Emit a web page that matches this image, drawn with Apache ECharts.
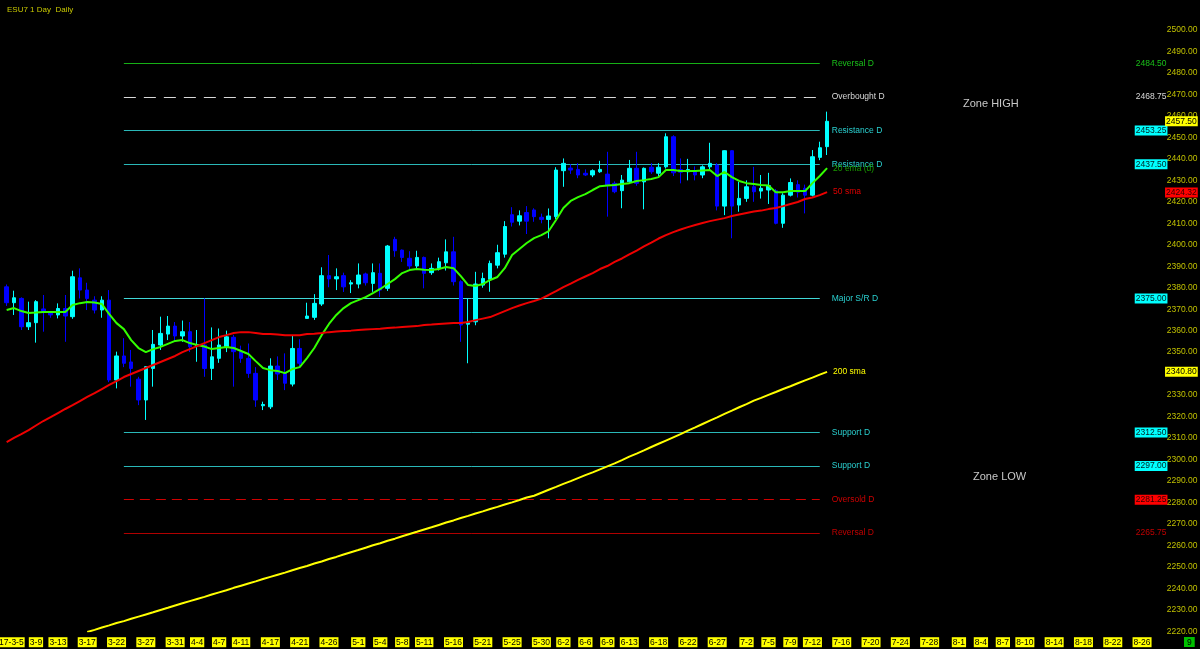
<!DOCTYPE html>
<html><head><meta charset="utf-8">
<script src="https://cdn.jsdelivr.net/npm/echarts@6/dist/echarts.min.js"></script>
<style>html,body{margin:0;padding:0;background:#000;}#c{width:1200px;height:649px;}</style>
</head><body><div id="c"></div>
<script>
const categories = ['2017-3-5','3-6','3-7','3-8','3-9','3-10','3-12','3-13','3-14','3-15','3-16','3-17','3-19','3-20','3-21','3-22','3-23','3-24','3-26','3-27','3-28','3-29','3-30','3-31',
'4-2','4-3','4-4','4-5','4-6','4-7','4-9','4-10','4-11','4-12','4-13','4-16','4-17','4-18','4-19','4-20','4-21','4-23','4-24','4-25','4-26','4-27','4-28','4-30',
'5-1','5-2','5-3','5-4','5-5','5-7','5-8','5-9','5-10','5-11','5-12','5-14','5-15','5-16','5-17','5-18','5-19','5-21','5-22','5-23','5-24','5-25','5-26','5-28','5-29','5-30','5-31',
'6-1','6-2','6-4','6-5','6-6','6-7','6-8','6-9','6-11','6-12','6-13','6-14','6-15','6-16','6-18','6-19','6-20','6-21','6-22','6-23','6-25','6-26','6-27','6-28','6-29','6-30',
'7-2','7-3','7-4','7-5','7-6','7-7','7-9','7-10','7-11','7-12','7-13','7-14',
'7-15','7-16','7-17','7-18','7-19','7-20','7-21','7-22','7-23','7-24','7-25','7-26','7-27','7-28','7-29','7-30','7-31',
'8-1','8-2','8-3','8-4','8-5','8-6','8-7','8-8','8-9','8-10','8-11','8-12','8-13','8-14','8-15','8-16','8-17','8-18','8-19','8-20','8-21','8-22','8-23','8-24','8-25','8-26','8-27','8-28','8-29'];

const tickLabels = ['2017-3-5','3-9','3-13','3-17','3-22','3-27','3-31','4-4','4-7','4-11','4-17','4-21','4-26','5-1','5-4','5-8','5-11','5-16','5-21','5-25','5-30','6-2','6-6','6-9','6-13','6-18','6-22','6-27','7-2','7-5','7-9','7-12','7-16','7-20','7-24','7-28','8-1','8-4','8-7','8-10','8-14','8-18','8-22','8-26'];

// [open, close, low, high]
const candles = [
[2380.4,2373.0,2371.5,2381.5],[2373.0,2375.3,2367.3,2378.6],[2375.0,2361.8,2360.3,2375.5],[2361.8,2363.7,2360.3,2373.5],
[2363.7,2373.5,2354.4,2374.2],[2370.1,2368.8,2359.5,2376.6],[2368.3,2367.3,2366.0,2369.0],[2367.3,2370.3,2365.7,2372.7],
[2370.3,2366.8,2354.8,2376.6],[2366.5,2385.1,2365.5,2387.9],[2384.6,2378.9,2375.0,2389.0],[2378.9,2375.0,2369.6,2382.3],
[2374.2,2369.6,2368.0,2376.0],[2369.6,2374.2,2366.0,2376.0],[2374.2,2337.0,2336.0,2378.9],[2337.0,2348.2,2333.1,2350.2],
[2348.2,2344.8,2343.0,2356.5],[2345.4,2342.4,2333.9,2351.0],[2337.4,2327.7,2325.3,2338.5],[2327.7,2343.2,2318.4,2343.5],
[2342.4,2353.6,2333.9,2360.3],[2353.3,2358.7,2351.0,2366.5],[2358.4,2362.1,2355.6,2366.8],[2362.1,2357.5,2355.0,2364.0],
[2357.5,2359.5,2354.8,2364.7],[2359.5,2352.5,2350.0,2364.0],[2353.0,2353.5,2345.5,2360.3],[2353.3,2342.4,2338.5,2375.0],
[2342.4,2347.8,2337.0,2361.5],[2347.1,2353.3,2345.0,2361.0],[2352.5,2357.1,2350.0,2360.0],[2356.9,2350.2,2333.9,2358.0],
[2350.2,2347.1,2345.0,2353.0],[2347.1,2340.1,2338.0,2354.0],[2340.1,2327.7,2324.5,2343.0],[2325.0,2325.6,2323.0,2326.9],
[2324.5,2343.5,2323.5,2347.1],[2343.5,2339.8,2337.0,2348.0],[2340.1,2335.5,2332.3,2349.4],[2335.1,2351.7,2334.0,2357.9],
[2351.7,2344.8,2343.0,2356.0],[2365.7,2366.8,2365.5,2373.0],[2366.2,2372.7,2365.0,2377.0],[2372.4,2385.6,2371.5,2389.5],
[2385.6,2384.1,2380.2,2395.2],[2384.1,2385.1,2378.9,2389.0],[2385.6,2380.4,2378.0,2387.0],[2381.7,2382.3,2377.5,2383.5],
[2381.7,2385.9,2379.7,2391.3],[2386.4,2382.3,2381.0,2387.0],[2382.0,2387.0,2378.1,2391.3],[2386.7,2378.9,2375.7,2391.3],
[2379.7,2399.4,2378.5,2399.9],[2402.5,2397.2,2394.4,2403.7],[2397.5,2394.1,2392.0,2397.8],[2393.7,2390.1,2388.5,2397.0],
[2390.1,2394.1,2389.0,2397.2],[2394.1,2386.7,2379.7,2394.5],[2387.0,2389.0,2386.0,2391.3],[2389.0,2392.1,2388.0,2394.0],
[2391.6,2396.7,2388.0,2402.5],[2396.7,2382.8,2381.0,2403.7],[2382.8,2362.6,2354.8,2383.5],[2363.0,2363.6,2344.8,2375.0],
[2364.1,2381.7,2362.5,2387.4],[2381.2,2384.3,2380.0,2387.0],[2383.9,2391.3,2378.1,2392.6],[2390.5,2396.3,2389.0,2400.0],
[2395.6,2408.5,2394.0,2411.0],[2414.0,2410.5,2408.5,2417.5],[2411.0,2413.5,2409.0,2416.0],[2415.0,2411.0,2405.0,2418.0],
[2416.2,2413.1,2410.7,2417.0],[2412.8,2411.8,2410.0,2414.5],[2411.8,2413.4,2403.0,2416.9],[2413.1,2434.8,2412.0,2436.1],
[2434.5,2437.9,2427.0,2440.2],[2435.7,2434.8,2433.0,2437.5],[2435.1,2432.5,2431.0,2438.0],[2433.3,2432.5,2432.0,2435.1],
[2432.5,2434.5,2431.5,2435.1],[2434.0,2435.1,2433.5,2439.1],[2432.9,2427.8,2413.1,2443.3],[2428.6,2424.7,2424.0,2429.5],
[2425.2,2430.1,2417.0,2432.5],[2429.3,2435.6,2428.5,2439.5],[2435.6,2428.6,2427.5,2443.3],[2429.3,2435.6,2416.5,2436.0],
[2436.1,2434.0,2433.0,2438.0],[2433.3,2436.1,2432.0,2438.0],[2436.3,2450.3,2435.5,2451.9],[2450.3,2433.5,2432.0,2451.0],
[2435.0,2433.8,2428.6,2440.2],[2434.0,2435.0,2430.0,2440.0],[2434.0,2432.5,2430.0,2436.5],[2432.5,2436.3,2431.0,2437.0],
[2436.3,2437.9,2435.0,2447.5],[2437.1,2418.0,2416.0,2438.0],[2418.0,2443.8,2413.8,2444.0],[2443.8,2418.0,2403.0,2444.0],
[2418.5,2421.6,2415.4,2429.3],[2421.6,2427.0,2420.0,2430.0],[2427.0,2424.7,2420.0,2436.3],[2425.0,2426.3,2421.5,2432.5],
[2425.5,2427.5,2419.0,2433.5],[2425.2,2410.0,2409.5,2426.0],[2410.0,2423.1,2407.9,2424.0],[2423.1,2429.0,2422.5,2430.9],
[2428.0,2424.5,2422.0,2430.0],[2426.3,2423.1,2414.6,2428.0],[2423.1,2441.0,2422.5,2444.1],[2440.7,2445.2,2439.4,2448.0],
[2445.7,2457.5,2441.8,2462.0]];

const emaLine = [2369.6,2370.5,2369.1,2368.2,2368.4,2368.7,2368.7,2368.7,2368.7,2371.9,2372.8,2373.3,2373.1,2372.4,2367.7,2363.5,
2360.7,2355.6,2351.9,2350.0,2351.4,2352.4,2353.8,2355.2,2355.6,2354.2,2353.3,2352.6,2351.4,2351.9,2352.4,2351.9,
2350.5,2349.1,2345.8,2342.6,2341.6,2341.2,2340.2,2342.1,2343.0,2347.2,2351.9,2357.9,2363.1,2367.3,2370.5,2372.8,
2374.2,2375.6,2377.5,2379.4,2381.7,2384.0,2386.8,2388.2,2388.7,2388.4,2388.2,2388.7,2389.6,2389.1,2385.4,2381.2,
2380.8,2381.7,2383.6,2385.0,2389.1,2395.2,2398.0,2400.8,2403.1,2404.5,2406.4,2411.5,2417.1,2420.4,2422.2,2423.6,
2425.5,2427.3,2427.6,2427.8,2428.3,2428.7,2429.7,2430.1,2430.6,2431.5,2434.8,2434.8,2434.3,2434.3,2434.3,2434.6,
2434.8,2432.0,2433.9,2431.5,2429.7,2428.7,2428.3,2427.8,2427.6,2424.5,2424.5,2425.0,2425.0,2425.0,2428.7,2432.0,2435.7];

const sma50 = [2308.1,2310.0,2311.8,2313.7,2315.8,2317.9,2319.7,2321.6,2323.5,2325.3,2327.2,2329.1,2330.9,2332.8,2334.7,2336.5,
2338.4,2339.8,2341.2,2342.6,2344.0,2345.4,2346.8,2348.2,2350.0,2351.4,2352.8,2354.2,2355.6,2357.0,2357.9,2358.9,
2359.3,2359.3,2358.9,2358.4,2358.4,2358.2,2357.9,2357.9,2357.9,2358.4,2358.6,2358.9,2359.3,2359.6,2359.8,2360.0,
2360.3,2360.5,2360.7,2360.9,2361.2,2361.4,2361.7,2361.9,2362.1,2362.6,2362.8,2363.1,2363.3,2363.5,2363.5,2364.0,
2364.9,2365.6,2366.3,2367.7,2369.1,2370.5,2371.7,2372.8,2373.8,2374.9,2376.6,2378.4,2380.3,2381.9,2383.6,2385.2,
2386.8,2388.7,2390.1,2392.0,2393.6,2395.5,2397.3,2399.2,2401.0,2402.9,2404.5,2405.9,2407.1,2408.2,2409.2,2410.1,
2411.0,2411.7,2412.4,2413.4,2414.1,2414.8,2415.5,2415.9,2416.6,2417.1,2418.0,2419.0,2419.9,2421.3,2422.0,2423.1,2424.5];

const sma200 = [null,null,null,null,null,null,null,null,null,null,null,2219.6,2220.6,2221.7,2222.7,2223.8,
2224.7,2225.8,2226.8,2227.8,2228.8,2229.9,2230.9,2232.0,2233.0,2234.0,2235.0,2236.0,2237.1,2238.1,2239.1,2240.2,
2241.2,2242.2,2243.2,2244.3,2245.3,2246.3,2247.3,2248.4,2249.4,2250.4,2251.5,2252.5,2253.6,2254.6,2255.7,2256.8,
2257.8,2258.9,2260.0,2261.0,2262.1,2263.1,2264.2,2265.3,2266.3,2267.4,2268.4,2269.5,2270.6,2271.6,2272.7,2273.7,
2274.8,2275.8,2276.9,2277.9,2279.0,2280.0,2281.1,2282.3,2283.1,2284.5,2285.9,2287.2,2288.6,2289.9,2291.3,2292.7,
2294.0,2295.4,2296.8,2298.2,2299.7,2301.3,2302.7,2304.2,2305.8,2307.3,2308.8,2310.3,2311.8,2313.4,2314.9,2316.5,
2318.1,2319.6,2321.2,2322.7,2324.3,2325.8,2327.4,2328.7,2330.1,2331.4,2332.8,2334.1,2335.5,2336.8,2338.1,2339.5,2340.8];

const levelNames  = ['Reversal D','Overbought D','Resistance D','Resistance D','Major S/R D','Support D','Support D','Oversold D','Reversal D'];
const levelValues = [2484.50, 2468.75, 2453.25, 2437.50, 2375.00, 2312.50, 2297.00, 2281.25, 2265.75];
const levelKinds  = ['revHigh','overbought','res','res','major','sup','sup','oversold','revLow'];

const lastPrice = 2457.50;
const sma50Last = 2424.32;
const sma200Last = 2340.80;

const FONT = 'Liberation Sans, Arial, sans-serif';
const CLEAR = 'rgba(0,0,0,0)';
const kindStyle = {
  revHigh:   {line:'#16b016', type:'solid', text:'#19c019', box:null},
  overbought:{line:'#d8d8d8', type:[12,8], text:'#d8d8d8', box:null},
  res:       {line:'#2ab8b8', type:'solid', text:'#2ad0d0', box:'#00ffff'},
  major:     {line:'#40d8d8', type:'solid', text:'#2ad0d0', box:'#00ffff'},
  sup:       {line:'#2ab8b8', type:'solid', text:'#2ad0d0', box:'#00ffff'},
  oversold:  {line:'#d00000', type:[10,6], text:'#d00000', box:'#ff0000'},
  revLow:    {line:'#b00000', type:'solid', text:'#c00000', box:null}
};

const LINE_START = 16, LINE_END = 111, VAL_END = 154, AXIS_END = 158;
const mlData = [];
levelValues.forEach((v, k) => {
  const st = kindStyle[levelKinds[k]];
  mlData.push([
    {coord:[categories[LINE_START], v], lineStyle:{color:st.line, width:1, type:st.type},
     label:{show:true, position:'end', distance:12, formatter:levelNames[k], color:st.text, fontSize:8.5, fontFamily:FONT}},
    {coord:[categories[LINE_END], v]}
  ]);
  const lab = {show:true, position:'end', distance:0, formatter:v.toFixed(2), fontSize:8.5, fontFamily:FONT, padding:[1,1,0,1]};
  if (st.box) { lab.backgroundColor = st.box; lab.color = '#002020'; } else { lab.color = st.text; }
  if (levelKinds[k] === 'oversold') lab.color = '#300000';
  mlData.push([
    {coord:[categories[VAL_END-4], v], lineStyle:{color:CLEAR, width:1}, label:lab},
    {coord:[categories[VAL_END], v]}
  ]);
});
const axisBoxes = [[lastPrice,'#ffff00','#000000'],[sma50Last,'#ff0000','#300000'],[sma200Last,'#ffff00','#000000']];
axisBoxes.forEach(([v,bg,fg]) => {
  mlData.push([
    {coord:[categories[AXIS_END-1], v], lineStyle:{color:CLEAR, width:1},
     label:{show:true, position:'end', distance:1, formatter:v.toFixed(2), color:fg, backgroundColor:bg, fontSize:8.5, fontFamily:FONT, padding:[1,1,0,1]}},
    {coord:[categories[AXIS_END], v]}
  ]);
});

const tickSet = new Set(tickLabels);
const chart = echarts.init(document.getElementById('c'), null, {renderer:'canvas'});
chart.setOption({
  backgroundColor:'#000',
  animation:false,
  title:{text:'ESU7 1 Day  Daily', left:2, top:1, textStyle:{color:'#c8c800', fontSize:8, fontWeight:'normal', fontFamily:FONT}},
  grid:{left:3, top:0, width:1164.7, height:631.2, containLabel:false, outerBoundsMode:'none'},
  xAxis:{type:'category', data:categories, boundaryGap:true,
    axisLine:{show:false}, axisTick:{show:false}, splitLine:{show:false},
    axisLabel:{interval:(i, v) => tickSet.has(v), color:'#000', backgroundColor:'#ffff00', fontSize:8.5, fontFamily:FONT, padding:[1,1,0,1], margin:6}},
  yAxis:{type:'value', position:'right', min:2220, max:2514, interval:10,
    axisLine:{show:false}, axisTick:{show:false}, splitLine:{show:false},
    axisLabel:{formatter:v => (v > 2500.5 ? '' : v.toFixed(2)), color:'#c0c000', fontSize:8.5, fontFamily:FONT, margin:-1}},
  graphic:[
    {type:'text', left:963, top:98, style:{text:'Zone HIGH', fill:'#c8c8c8', font:'11px Liberation Sans, Arial, sans-serif'}},
    {type:'text', left:973, top:471, style:{text:'Zone LOW', fill:'#c8c8c8', font:'11px Liberation Sans, Arial, sans-serif'}},
    {type:'text', left:1184, top:637, style:{text:'9', fill:'#000', backgroundColor:'#00c000', padding:[1,3,0,3], font:'8.5px Liberation Sans, Arial, sans-serif'}}
  ],
  series:[
    {type:'candlestick', data:candles, barWidth:4, z:2,
     itemStyle:{color:'#00ffff', color0:'#0000ff', borderColor:'#00ffff', borderColor0:'#0000ff', borderWidth:1},
     markLine:{silent:true, symbol:['none','none'], animation:false, data:mlData, z:1}},
    {type:'line', data:emaLine, symbol:'none', z:4, lineStyle:{color:'#33ff00', width:2},
     endLabel:{show:true, formatter:'20 ema (d)', color:'#1a9a00', fontSize:8.5, fontFamily:FONT, distance:6, offset:[0,1]}},
    {type:'line', data:sma50, symbol:'none', z:4, lineStyle:{color:'#ee0000', width:2},
     endLabel:{show:true, formatter:'50 sma', color:'#e00000', fontSize:8.5, fontFamily:FONT, distance:6}},
    {type:'line', data:sma200, symbol:'none', z:4, lineStyle:{color:'#ffff00', width:2},
     endLabel:{show:true, formatter:'200 sma', color:'#ffff00', fontSize:8.5, fontFamily:FONT, distance:6}}
  ]
});
</script></body></html>
